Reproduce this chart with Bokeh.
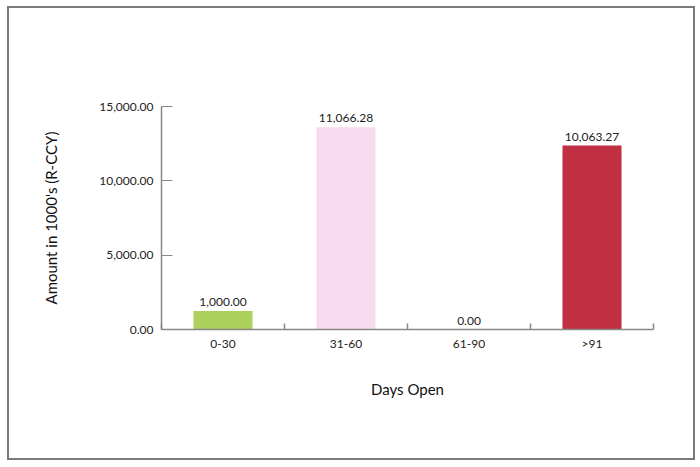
from bokeh.plotting import figure
from bokeh.models import ColumnDataSource, FixedTicker, NumeralTickFormatter, Range1d
from bokeh.core.properties import value
from bokeh.embed import file_html
from bokeh.resources import INLINE

categories = ["0-30", "31-60", "61-90", ">91"]
bar_heights = [1250, 13600, 0, 12370]
label_values = [1000.00, 11066.28, 0.00, 10063.27]
colors = ["#acd05c", "#f7daee", "#ffffff", "#c02f42"]
y_ticks = [0, 5000, 10000, 15000]

FONT = "Lato"
W, H = 684, 450

xs = [i + 0.5 for i in range(len(categories))]
src = ColumnDataSource(dict(
    x=xs,
    top=bar_heights,
    color=colors,
    label=[f"{v:,.2f}" for v in label_values],
))

p = figure(width=W, height=H, output_backend="svg", toolbar_location=None,
           x_range=Range1d(0, len(categories)), y_range=Range1d(0, 15000),
           min_border_left=152, min_border_right=44, min_border_top=98, min_border_bottom=133)
p.styles = {"margin": "6px 0 0 7px", "border": "2px solid #7a7a7a", "box-sizing": "content-box"}
p.outline_line_color = None
p.xgrid.visible = False
p.ygrid.visible = False
p.background_fill_color = "white"
p.border_fill_color = "white"

p.vbar(x="x", top="top", width=0.48, bottom=0, fill_color="color", line_color=None, source=src)
p.text(x="x", y="top", text="label", source=src, text_align="center", text_baseline="bottom",
       y_offset=-5, text_font=value(FONT), text_font_size="12px", text_color="#222222")

# x axis
p.xaxis.ticker = FixedTicker(ticks=xs, minor_ticks=list(range(len(categories) + 1)))
p.xaxis.major_label_overrides = {x: c for x, c in zip(xs, categories)}
p.xaxis.major_tick_in = 0
p.xaxis.major_tick_out = 0
p.xaxis.minor_tick_in = 6
p.xaxis.minor_tick_out = 0
p.xaxis.minor_tick_line_color = "#888888"
p.xaxis.minor_tick_line_width = 1.5
p.xaxis.axis_line_color = "#888888"
p.xaxis.axis_line_width = 1.5
p.xaxis.major_label_standoff = 6
p.xaxis.major_label_text_font = FONT
p.xaxis.major_label_text_font_size = "12px"
p.xaxis.major_label_text_color = "#222222"
p.xaxis.axis_label = "Days Open"
p.xaxis.axis_label_text_font = FONT
p.xaxis.axis_label_text_font_style = "normal"
p.xaxis.axis_label_text_font_size = "15px"
p.xaxis.axis_label_text_color = "#111111"
p.xaxis.axis_label_standoff = 26

# y axis
p.yaxis.ticker = FixedTicker(ticks=y_ticks)
p.yaxis.formatter = NumeralTickFormatter(format="0,0.00")
p.yaxis.major_tick_in = 11
p.yaxis.major_tick_out = 0
p.yaxis.minor_tick_line_color = None
p.yaxis.major_tick_line_color = "#888888"
p.yaxis.major_tick_line_width = 1.2
p.yaxis.axis_line_color = "#888888"
p.yaxis.axis_line_width = 1.5
p.yaxis.major_label_standoff = 8
p.yaxis.major_label_text_font = FONT
p.yaxis.major_label_text_font_size = "12px"
p.yaxis.major_label_text_color = "#222222"
p.yaxis.axis_label = "Amount in 1000's (R-CCY)"
p.yaxis.axis_label_text_font = FONT
p.yaxis.axis_label_text_font_style = "normal"
p.yaxis.axis_label_text_font_size = "15px"
p.yaxis.axis_label_text_color = "#111111"
p.yaxis.axis_label_standoff = 36

open("out.html", "w").write(file_html(p, INLINE))
